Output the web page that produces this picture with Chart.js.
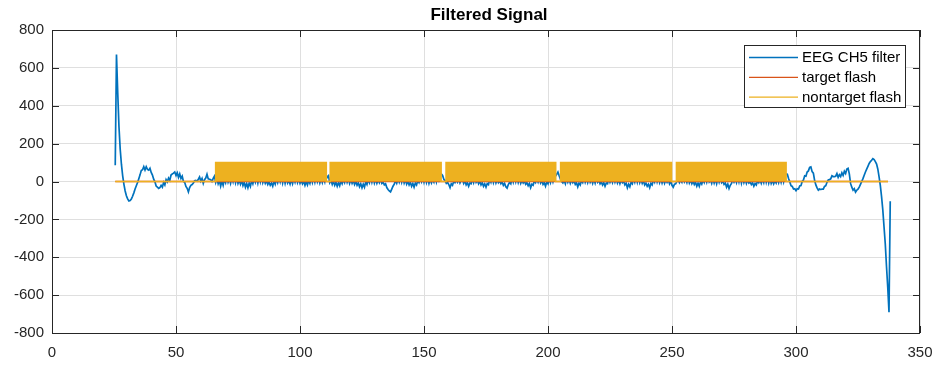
<!DOCTYPE html>
<html>
<head>
<meta charset="utf-8">
<title>Filtered Signal</title>
<script src="https://cdn.jsdelivr.net/npm/chart.js@4.4.1/dist/chart.umd.min.js"></script>
<style>
  html, body { margin: 0; padding: 0; background: #ffffff; }
  #wrap { width: 936px; height: 366px; }
</style>
</head>
<body>
<div id="wrap"><canvas id="sig" width="936" height="366"></canvas></div>
<script>
// ---- data ----------------------------------------------------------------
const chartTitle = 'Filtered Signal';
const seriesNames = ['EEG CH5 filter', 'target flash', 'nontarget flash'];

// EEG channel 5 after filtering, one sample every 0.5 s starting at 25.5 s
const eegStart = 25.5;
const eegStep = 0.5;
const eegCh5 = [
  86, 670, 470, 290, 170, 90, 30, -15, -50, -75,
  -92, -103, -100, -92, -78, -60, -40, -22, -5, 15,
  35, 58, 62, 78, 60, 78, 64, 60, 70, 48,
  34, 12, -2, -24, -30, -36, -32, -20, -30, -5,
  -18, 10, -2, 18, 6, 34, 40, 44, 50, 32,
  46, 22, 40, 16, 28, 0, -4, -26, -36, -55,
  -32, -20, -16, -8, 4, 6, 2, 12, 24, 2,
  16, -10, 10, 18, 38, 14, 12, 10, 0, 16,
  28, -5, 18, -12, 6, -25, 2, -20, 12, -6,
  25, -4, 15, -10, 18, -2, 30, -6, 20, -10,
  8, -14, 5, -22, -4, -30, -10, -33, -8, -26,
  6, -12, 14, -4, 22, -8, 25, -2, 30, -6,
  12, -10, 4, -16, -2, -20, -8, -25, 2, -14,
  14, -6, 20, -2, 26, -8, 22, -10, 18, -8,
  6, -14, 10, -12, 15, -4, 22, -6, 14, -10,
  4, -12, 2, -20, 0, -18, 6, -10, 18, -6,
  22, -4, 25, -2, 18, -8, 14, -6, 20, -2,
  35, 22, 30, -6, 6, -15, 2, -20, -4, -25,
  -6, -22, 4, -12, 10, -6, 20, -4, 15, -10,
  10, -10, 5, -16, 0, -20, -6, -28, -12, -33,
  -14, -30, -2, -16, 10, -6, 25, -4, 20, -8,
  12, -10, 8, -6, 14, -10, -4, -18, -12, -32,
  -42, -50, -55, -40, -25, -14, 5, -10, 12, -4,
  25, -4, 20, -8, 10, -14, 2, -18, -4, -25,
  -10, -30, -8, -18, 6, -6, 14, -2, 24, -4,
  22, -6, 18, -10, 12, -8, 10, -4, 25, -2,
  30, 8, 38, 40, 32, 12, 5, -10, -4, -16,
  -33, -12, -20, 2, -6, 8, -4, 12, -8, 6,
  10, -10, 4, -18, -6, -25, -8, -12, 14, -6,
  20, -4, 8, -12, 2, -18, -6, -25, -12, -30,
  -10, -16, 12, -4, 22, -6, 16, -8, 10, -6,
  4, -12, -2, -20, -10, -28, -35, -16, -4, -12,
  18, -4, 25, -2, 22, -6, 15, -10, 6, -8,
  2, -15, -6, -22, -10, -33, -14, -20, 4, -6,
  12, -4, 18, -8, 4, -15, -6, -25, -2, -12,
  15, -6, 20, -2, 22, 28, 38, 50, 30, 12,
  0, -8, 6, -12, 18, -4, 12, -10, 8, -6,
  4, -15, -6, -28, -8, -18, 5, -6, 20, -4,
  15, -6, 18, -4, 10, -10, 12, -8, 20, -4,
  6, -12, -2, -18, -6, -25, -8, -12, 15, -4,
  12, -6, 18, -4, 15, -8, 10, -12, 8, -6,
  2, -18, -8, -33, -14, -28, -4, -12, 15, -4,
  22, -4, 25, -6, 12, -10, 4, -18, -8, -25,
  -14, -33, -10, -18, 10, -4, 25, -2, 20, -6,
  15, -8, 12, -10, 8, -4, 10, -12, 2, -20,
  -30, -14, -12, 2, 10, -6, 8, -4, 22, -2,
  12, -6, 20, -8, 8, -12, 2, -16, -4, -25,
  -8, -25, -2, -14, 8, -6, 18, -4, 25, -2,
  8, -10, 15, -8, 12, -12, 18, -4, 20, -6,
  2, -15, -8, -30, -14, -37, -20, -10, 10, -4,
  12, -6, 25, -2, 28, -8, 20, -6, 12, -10,
  10, -8, -2, -16, -6, -25, -10, -18, 5, -6,
  8, -10, 12, -6, 25, -4, 22, -8, 18, -10,
  6, -12, 4, -8, 15, -6, 20, -4, 25, -2,
  30, 40, 38, 16, -2, -22, -26, -40, -38, -48,
  -38, -40, -24, -22, 0, 8, 30, 28, 50, 56,
  74, 77, 52, 44, 6, -18, -34, -46, -40, -42,
  -40, -40, -26, -22, -4, 8, 10, 14, 30, 26,
  26, 28, 42, 22, 36, 26, 46, 32, 54, 42,
  66, 70, 40, -10, -30, -46, -38, -56, -46, -40,
  -30, -15, 0, 15, 33, 50, 65, 80, 95, 105,
  112, 121, 116, 105, 92, 65, 25, -20, -80, -150,
  -240, -330, -450, -560, -690, -104
];

// flash marker channels (stimulus on = 100, off = 0)
const markerFirst = 25.5;
const markerLast = 337.1;
const flashLevel = 100;
const nontargetOn  = [66.0, 112.2, 158.9, 205.1, 251.8];
const nontargetOff = [110.6, 156.9, 203.1, 249.8, 296.0];
const targetOn  = [];
const targetOff = [];

// axis ticks
const xTicks = [0, 50, 100, 150, 200, 250, 300, 350];
const yTicks = [-800, -600, -400, -200, 0, 200, 400, 600, 800];

// ---- build point lists ----------------------------------------------------
const eegPoints = eegCh5.map((v, i) => ({ x: eegStart + i * eegStep, y: v }));

function markerTrace(onTimes, offTimes) {
  const pts = [{ x: markerFirst, y: 0 }];
  onTimes.forEach((t, i) => {
    pts.push({ x: t, y: 0 }, { x: t, y: flashLevel },
             { x: offTimes[i], y: flashLevel }, { x: offTimes[i], y: 0 });
  });
  pts.push({ x: markerLast, y: 0 });
  return pts;
}

const COLORS = ['#0072BD', '#D95319', '#EDB120'];
const FONT = "'Liberation Sans', Arial, Helvetica, sans-serif";
const AXIS = '#262626';
const GRID = '#dfdfdf';

// ---- plugins: title, box with inward ticks, legend --------------------------
const frame = {
  id: 'frame',
  afterDatasetsDraw(chart) {
    const { ctx, chartArea: a, scales } = chart;
    ctx.save();
    ctx.strokeStyle = AXIS;
    ctx.lineWidth = 1;
    ctx.strokeRect(a.left + 0.5, a.top + 0.5, a.right - a.left - 1, a.bottom - a.top);
    const len = 7;
    ctx.beginPath();
    xTicks.forEach(v => {
      const px = Math.round(scales.x.getPixelForValue(v)) + 0.5;
      ctx.moveTo(px, a.bottom); ctx.lineTo(px, a.bottom - len);
      ctx.moveTo(px, a.top); ctx.lineTo(px, a.top + len);
    });
    yTicks.forEach(v => {
      const py = Math.round(scales.y.getPixelForValue(v)) + 0.5;
      ctx.moveTo(a.left, py); ctx.lineTo(a.left + len, py);
      ctx.moveTo(a.right, py); ctx.lineTo(a.right - len, py);
    });
    ctx.stroke();
    ctx.restore();
  },
  afterDraw(chart) {
    const { ctx, chartArea: a } = chart;
    ctx.save();
    // title
    ctx.fillStyle = '#000';
    ctx.font = 'bold 17px ' + FONT;
    ctx.textAlign = 'center';
    ctx.textBaseline = 'middle';
    ctx.fillText(chartTitle, (a.left + a.right) / 2 + 3, 15);

    // legend
    const bx = 744, by = 45, bw = 161, bh = 62;
    ctx.fillStyle = '#ffffff';
    ctx.fillRect(bx, by, bw, bh);
    ctx.strokeStyle = AXIS;
    ctx.lineWidth = 1;
    ctx.strokeRect(bx + 0.5, by + 0.5, bw, bh);
    ctx.font = '15px ' + FONT;
    ctx.textAlign = 'left';
    ctx.textBaseline = 'middle';
    seriesNames.forEach((name, i) => {
      const y = by + 12.5 + i * 19.8;
      ctx.strokeStyle = COLORS[i];
      ctx.lineWidth = 1.3;
      ctx.beginPath();
      ctx.moveTo(bx + 5, y); ctx.lineTo(bx + 54, y);
      ctx.stroke();
      ctx.fillStyle = '#000';
      ctx.fillText(name, bx + 58, y + 0.5);
    });
    ctx.restore();
  }
};

new Chart(document.getElementById('sig'), {
  type: 'line',
  data: {
    datasets: [
      {
        label: seriesNames[2],
        data: markerTrace(nontargetOn, nontargetOff),
        borderColor: COLORS[2],
        backgroundColor: COLORS[2],
        borderWidth: 1.6,
        fill: 'origin',
        pointRadius: 0,
        tension: 0,
        order: 0
      },
      {
        label: seriesNames[1],
        data: markerTrace(targetOn, targetOff),
        borderColor: COLORS[1],
        borderWidth: 1.4,
        fill: false,
        pointRadius: 0,
        tension: 0,
        order: 1
      },
      {
        label: seriesNames[0],
        data: eegPoints,
        borderColor: COLORS[0],
        borderWidth: 1.7,
        fill: false,
        pointRadius: 0,
        tension: 0,
        order: 2
      }
    ]
  },
  options: {
    responsive: false,
    animation: false,
    devicePixelRatio: 1,
    layout: { padding: { top: 30, right: 16, left: 0, bottom: 0 } },
    plugins: {
      legend: { display: false },
      title: { display: false },
      tooltip: { enabled: false }
    },
    scales: {
      x: {
        type: 'linear',
        min: 0,
        max: 350,
        afterFit(s) { s.height = 33; s.paddingLeft = 0; s.paddingRight = 0; },
        afterBuildTicks(s) { s.ticks = xTicks.map(v => ({ value: v })); },
        grid: { color: GRID, drawTicks: false },
        border: { display: false },
        ticks: { color: AXIS, font: { family: FONT, size: 15 }, padding: 11, maxRotation: 0 }
      },
      y: {
        type: 'linear',
        min: -800,
        max: 800,
        afterFit(s) { s.width = 52; s.paddingTop = 0; s.paddingBottom = 0; },
        afterBuildTicks(s) { s.ticks = yTicks.map(v => ({ value: v })); },
        grid: { color: GRID, drawTicks: false },
        border: { display: false },
        ticks: { color: AXIS, font: { family: FONT, size: 15 }, padding: 8 }
      }
    }
  },
  plugins: [frame]
});
</script>
</body>
</html>
